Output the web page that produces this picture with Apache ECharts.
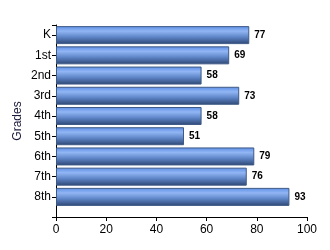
<!DOCTYPE html>
<html><head><meta charset="utf-8">
<script src="https://cdn.jsdelivr.net/npm/echarts@6/dist/echarts.min.js"></script>
<style>html,body{margin:0;padding:0;background:#fff}#c{width:330px;height:250px}</style>
</head><body><div id="c"></div>
<script>
const categories = ['K','1st','2nd','3rd','4th','5th','6th','7th','8th'];
const values = [77,69,58,73,58,51,79,76,93];
const xTicks = [0,20,40,60,80,100];
const axisTitle = 'Grades';

const chart = echarts.init(document.getElementById('c'), null, {renderer:'canvas'});
const font = 'Liberation Sans, Arial, sans-serif';
chart.setOption({
  animation:false,
  grid:[
    {left:56,right:23,top:25,height:182},
    {left:56,right:23,top:25,height:192}
  ],
  xAxis:[
    {gridIndex:0,type:'value',min:xTicks[0],max:xTicks[xTicks.length-1],show:false},
    {gridIndex:1,type:'value',min:xTicks[0],max:xTicks[xTicks.length-1],interval:20,
     axisLine:{show:true,lineStyle:{color:'#000',width:1}},
     axisTick:{show:true,length:4,lineStyle:{color:'#000'}},
     axisLabel:{color:'#000',fontFamily:font,fontSize:12,margin:7},
     splitLine:{show:false}}
  ],
  yAxis:[
    {gridIndex:0,type:'category',inverse:true,data:categories,
     axisLine:{show:false},
     axisTick:{show:true,alignWithLabel:true,length:4,lineStyle:{color:'#000'}},
     axisLabel:{color:'#000',fontFamily:font,fontSize:12,margin:5}},
    {gridIndex:1,type:'value',min:0,max:1,interval:1,
     name:axisTitle,nameLocation:'middle',nameGap:32,nameRotate:90,
     nameTextStyle:{color:'#1a1a3a',fontFamily:font,fontSize:12},
     axisLine:{show:true,lineStyle:{color:'#000',width:1}},
     axisTick:{show:true,length:4,lineStyle:{color:'#000'}},
     axisLabel:{show:false},splitLine:{show:false}}
  ],
  series:[{
    type:'bar',xAxisIndex:0,yAxisIndex:0,data:values,barWidth:18,
    itemStyle:{
      borderColor:'#3f5a86',borderWidth:1,
      color:new echarts.graphic.LinearGradient(0,0,0,1,[
        {offset:0,color:'#5b8de6'},
        {offset:0.28,color:'#92b6f4'},
        {offset:0.6,color:'#5f86c8'},
        {offset:1,color:'#2d4673'}
      ])
    },
    label:{show:true,position:'right',distance:5,color:'#000',fontFamily:font,fontSize:10,fontWeight:'bold'}
  }]
});
</script></body></html>
